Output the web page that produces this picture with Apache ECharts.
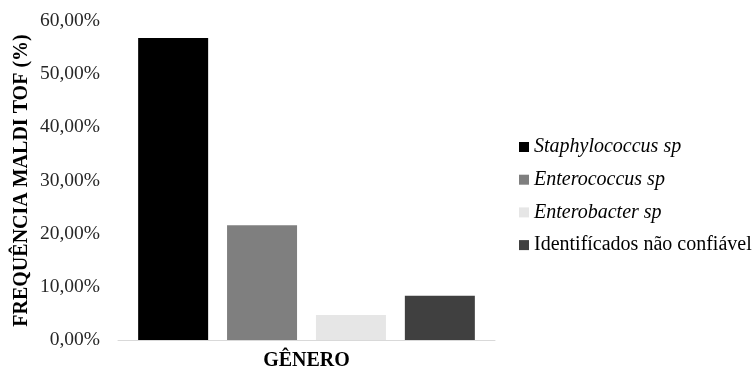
<!DOCTYPE html>
<html><head><meta charset="utf-8">
<script src="https://cdn.jsdelivr.net/npm/echarts@6/dist/echarts.min.js"></script>
<style>html,body{margin:0;padding:0;background:#fff}#c{width:755px;height:370px}</style>
</head><body><div id="c"></div>
<script>
const categories = [''];
const seriesNames = ['Staphylococcus sp', 'Enterococcus sp', 'Enterobacter sp', 'Identifícados não confiável'];
const seriesValues = [56.8, 21.6, 4.7, 8.3];
const seriesColors = ['#000000', '#7f7f7f', '#e6e6e6', '#404040'];
const italicNames = [true, true, true, false];
const yTicks = [0, 10, 20, 30, 40, 50, 60];

const font = 'Liberation Serif, Times New Roman, serif';
const chart = echarts.init(document.getElementById('c'));
chart.setOption({
  animation: false,
  grid: { left: 118, right: 260, top: 21, bottom: 30, outerBoundsMode: 'none', containLabel: false },
  xAxis: {
    type: 'category', data: categories,
    name: 'GÊNERO', nameLocation: 'middle', nameGap: 11,
    nameTextStyle: { fontFamily: font, fontWeight: 'bold', fontSize: 20, color: '#000' },
    axisLine: { lineStyle: { color: '#d9d9d9', width: 1 } },
    axisTick: { show: false }, axisLabel: { show: false }
  },
  yAxis: {
    type: 'value', min: yTicks[0], max: yTicks[yTicks.length - 1], interval: 10,
    name: 'FREQUÊNCIA MALDI TOF (%)', nameLocation: 'middle', nameGap: 86,
    nameTextStyle: { fontFamily: font, fontWeight: 'bold', fontSize: 20, color: '#000' },
    axisLine: { show: false }, axisTick: { show: false }, splitLine: { show: false },
    axisLabel: { fontFamily: font, fontSize: 19.5, color: '#262626', margin: 18,
      formatter: v => v.toFixed(2).replace('.', ',') + '%' }
  },
  legend: {
    orient: 'vertical', left: 519, top: 137, itemWidth: 10, itemHeight: 10, itemGap: 12.7,
    icon: 'rect', padding: 0,
    textStyle: { fontFamily: font, fontSize: 20, color: '#000',
      rich: { i: { fontStyle: 'italic', fontFamily: font, fontSize: 20, lineHeight: 20 }, n: { fontFamily: font, fontSize: 20, lineHeight: 20 } } },
    formatter: name => {
      const idx = seriesNames.indexOf(name);
      return italicNames[idx] ? '{i|' + name + '}' : '{n|' + name + '}';
    },
    data: seriesNames
  },
  series: seriesNames.map((n, i) => ({
    name: n, type: 'bar', data: [seriesValues[i]], barWidth: 70, barGap: '27%',
    itemStyle: { color: seriesColors[i] }
  }))
});
</script></body></html>
